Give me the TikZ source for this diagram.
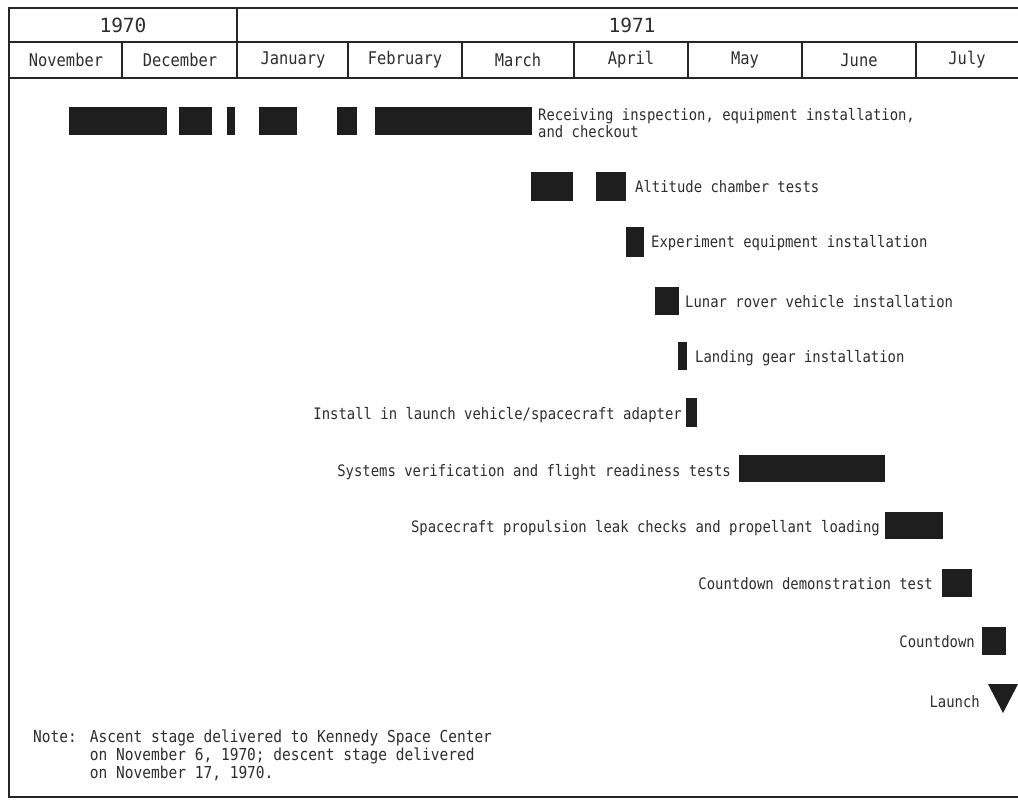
\documentclass[tikz,border=0pt]{standalone}
\usepackage{fontspec}
\setmainfont{DejaVu Sans Mono}
\newfontfamily\lblfont[FakeStretch=0.88]{DejaVu Sans Mono}
\definecolor{ink}{HTML}{262626}
\definecolor{barc}{HTML}{1E1E1E}
\definecolor{txt}{HTML}{2E2E2E}
\begin{document}
\begin{tikzpicture}[x=1pt,y=-1pt,
  frameline/.style={draw=ink,line width=2.6pt},
  gridline/.style={draw=ink,line width=1.4pt},
  barshape/.style={fill=barc},
  lbl/.style={inner sep=0pt,text=txt,font=\lblfont\fontsize{15.8}{16}\selectfont},
  hdr/.style={inner sep=0pt,text=txt,font=\lblfont\fontsize{17.5}{18}\selectfont},
  yr/.style={inner sep=0pt,text=txt,font=\fontsize{19.5}{20}\selectfont}]
\useasboundingbox (0,0) rectangle (1018,801);
\fill[white] (0,0) rectangle (1018,801);
% frame
\draw[frameline] (1018,8) -- (9,8) -- (9,797) -- (1018,797);
% header grid
\draw[gridline] (9,42) -- (1018,42);
\draw[gridline] (9,78) -- (1018,78);
\draw[gridline] (237,8) -- (237,78);
\foreach \xx in {122,348,462,574,688,802,916}
  \draw[gridline] (\xx,42) -- (\xx,78);
% years
\node[yr] (y1970) at (123,25) {1970};
\node[yr] (y1971) at (632,25) {1971};
% months
\node[hdr] (mnov) at (66,60) {November};
\node[hdr] (mdec) at (180,60) {December};
\node[hdr] (mjan) at (293,60) {January};
\node[hdr] (mfeb) at (405,60) {February};
\node[hdr] (mmar) at (518,60) {March};
\node[hdr] (mapr) at (631,60) {April};
\node[hdr] (mmay) at (745,60) {May};
\node[hdr] (mjun) at (859,60) {June};
\node[hdr] (mjul) at (967,60) {July};
% row 1
\foreach \a/\b in {69/167,179/212,227/235,259/297,337/357,375/532}
  \fill[barshape] (\a,107) rectangle (\b,135);
\node[lbl,anchor=base west] (l1a) at (538,120) {Receiving inspection, equipment installation,};
\node[lbl,anchor=base west] (l1b) at (538,137) {and checkout};
% row 2
\fill[barshape] (531,172) rectangle (573,201);
\fill[barshape] (596,172) rectangle (626,201);
\node[lbl,anchor=base west] (l2) at (635,192) {Altitude chamber tests};
% row 3
\fill[barshape] (626,227) rectangle (644,257);
\node[lbl,anchor=base west] (l3) at (651,247) {Experiment equipment installation};
% row 4
\fill[barshape] (655,287) rectangle (679,315);
\node[lbl,anchor=base west] (l4) at (685,307) {Lunar rover vehicle installation};
% row 5
\fill[barshape] (678,342) rectangle (687,370);
\node[lbl,anchor=base west] (l5) at (695,362) {Landing gear installation};
% row 6
\fill[barshape] (686,398) rectangle (697,427);
\node[lbl,anchor=base east] (l6) at (682,419) {Install in launch vehicle/spacecraft adapter};
% row 7
\fill[barshape] (739,455) rectangle (885,482);
\node[lbl,anchor=base east] (l7) at (731,476) {Systems verification and flight readiness tests};
% row 8
\fill[barshape] (885,512) rectangle (943,539);
\node[lbl,anchor=base east] (l8) at (880,532) {Spacecraft propulsion leak checks and propellant loading};
% row 9
\fill[barshape] (942,569) rectangle (972,597);
\node[lbl,anchor=base east] (l9) at (933,589) {Countdown demonstration test};
% row 10
\fill[barshape] (982,627) rectangle (1006,655);
\node[lbl,anchor=base east] (l10) at (975,647) {Countdown};
% row 11
\fill[barshape] (988,684) -- (1018,684) -- (1003,713) -- cycle;
\node[lbl,anchor=base east] (l11) at (980,707) {Launch};
% note
\node[lbl,anchor=base west,font=\lblfont\fontsize{16.5}{18}\selectfont] (note) at (33,742)
  {\begin{tabular}[t]{@{}l@{\hspace{13pt}}l@{}}
   Note: & Ascent stage delivered to Kennedy Space Center\\
         & on November 6, 1970; descent stage delivered\\
         & on November 17, 1970.
   \end{tabular}};
\end{tikzpicture}
\end{document}
